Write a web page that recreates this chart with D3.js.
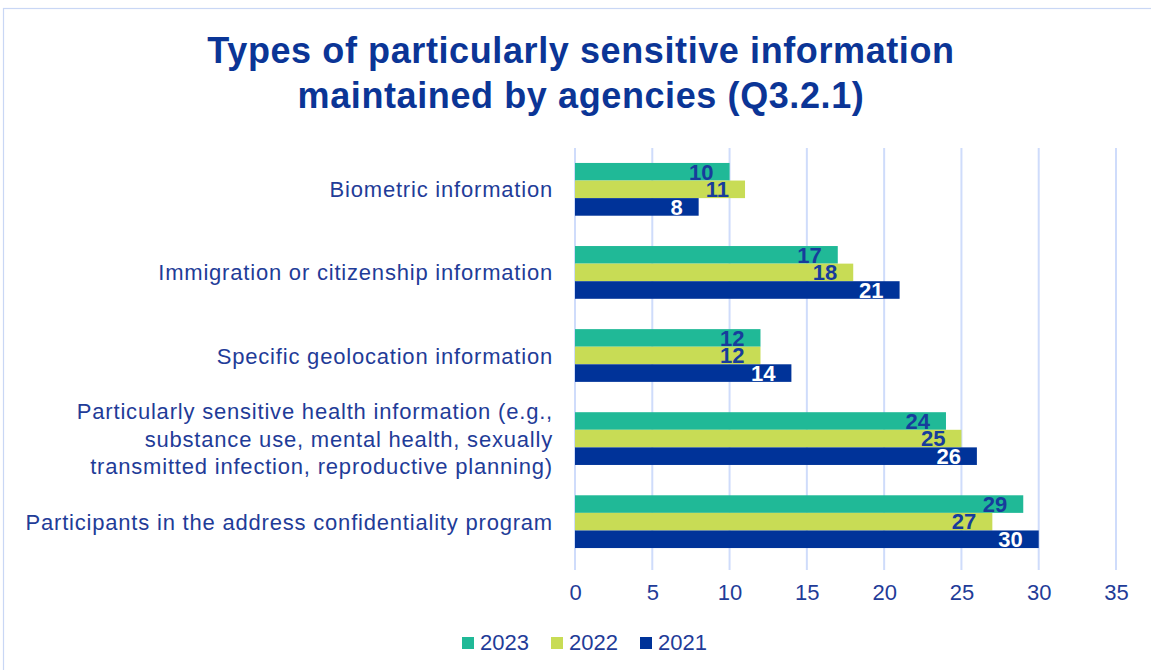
<!DOCTYPE html>
<html>
<head>
<meta charset="utf-8">
<script src="https://cdn.jsdelivr.net/npm/d3@7"></script>
<style>
  html, body { margin: 0; padding: 0; background: #fff; }
  svg { display: block; font-family: "Liberation Sans", Arial, sans-serif; }
</style>
</head>
<body>
<svg id="chart" width="1151" height="670"></svg>
<script>
// Chart data
const categories = [
  ["Biometric information"],
  ["Immigration or citizenship information"],
  ["Specific geolocation information"],
  ["Particularly sensitive health information (e.g.,", "substance use, mental health, sexually", "transmitted infection, reproductive planning)"],
  ["Participants in the address confidentiality program"]
];
const seriesNames = ["2023", "2022", "2021"];
const values2023 = [10, 17, 12, 24, 29];
const values2022 = [11, 18, 12, 25, 27];
const values2021 = [8, 21, 14, 26, 30];
const xTicks = [0, 5, 10, 15, 20, 25, 30, 35];

const seriesValues = [values2023, values2022, values2021];
const colors = ["#20b997", "#c8dc55", "#003399"];
const labelColors = ["#173c9c", "#173c9c", "#ffffff"];
const textColor = "#1f3c98";

const svg = d3.select("#chart");

// Outer frame
svg.append("rect")
  .attr("x", 3.5).attr("y", 8.5)
  .attr("width", 1160).attr("height", 680)
  .attr("fill", "none").attr("stroke", "#c9d7f5").attr("stroke-width", 1.2);

// Title
const title = svg.append("text")
  .attr("text-anchor", "middle")
  .attr("fill", "#0b3596")
  .attr("font-weight", "bold")
  .attr("font-size", 36)
  .attr("letter-spacing", 0.6);
title.append("tspan").attr("x", 581).attr("y", 63).text("Types of particularly sensitive information");
title.append("tspan").attr("x", 581).attr("y", 108).text("maintained by agencies (Q3.2.1)");

const plot = { left: 575, right: 1116, top: 148, bottom: 563 };

const x = d3.scaleLinear().domain([0, 35]).range([plot.left, plot.right]);
const y = d3.scaleBand()
  .domain(d3.range(categories.length))
  .range([plot.top, plot.bottom])
  .paddingInner(0.365).paddingOuter(0.18);
const ySub = d3.scaleBand().domain(d3.range(seriesNames.length)).range([0, y.bandwidth()]);

// Vertical gridlines
svg.append("g")
  .selectAll("line")
  .data(xTicks)
  .join("line")
  .attr("x1", d => x(d)).attr("x2", d => x(d))
  .attr("y1", plot.top).attr("y2", plot.bottom + 7)
  .attr("stroke", "#cfdcfb").attr("stroke-width", 2);

// Bars
const groups = svg.append("g")
  .selectAll("g")
  .data(categories)
  .join("g")
  .attr("transform", (d, i) => `translate(0,${y(i)})`);

groups.each(function (cat, i) {
  const g = d3.select(this);
  seriesValues.forEach((vals, s) => {
    g.append("rect")
      .attr("x", x(0))
      .attr("y", ySub(s))
      .attr("width", x(vals[i]) - x(0))
      .attr("height", ySub.bandwidth())
      .attr("fill", colors[s]);
  });
  seriesValues.forEach((vals, s) => {
    g.append("text")
      .attr("x", x(vals[i]) - 16)
      .attr("y", ySub(s) + ySub.bandwidth() - 1)
      .attr("text-anchor", "end")
      .attr("font-weight", "bold")
      .attr("font-size", 22)
      .attr("fill", labelColors[s])
      .text(vals[i]);
  });
});

// Category labels
const catLabels = svg.append("g")
  .selectAll("text")
  .data(categories)
  .join("text")
  .attr("text-anchor", "end")
  .attr("font-size", 22)
  .attr("letter-spacing", 0.8)
  .attr("fill", textColor);
catLabels.each(function (lines, i) {
  const t = d3.select(this);
  const cy = y(i) + y.bandwidth() / 2;
  const lh = 27.5;
  lines.forEach((ln, k) => {
    t.append("tspan")
      .attr("x", 553)
      .attr("y", cy + (k - (lines.length - 1) / 2) * lh + 8)
      .text(ln);
  });
});

// X axis tick labels
const xAxis = d3.axisBottom(x).tickValues(xTicks).tickSize(0).tickPadding(0);
const axisG = svg.append("g")
  .attr("transform", `translate(0,${plot.bottom + 21})`)
  .call(xAxis);
axisG.select(".domain").remove();
axisG.selectAll("text")
  .attr("font-size", 22)
  .attr("font-family", "\"Liberation Sans\", Arial, sans-serif")
  .attr("fill", textColor)
  .attr("dy", "0.71em");

// Legend
const legendX = [462, 551, 640];
const legend = svg.append("g")
  .selectAll("g")
  .data(seriesNames)
  .join("g")
  .attr("transform", (d, i) => `translate(${legendX[i]},637)`);
legend.append("rect")
  .attr("x", 0).attr("y", 0)
  .attr("width", 12).attr("height", 12)
  .attr("fill", (d, i) => colors[i]);
legend.append("text")
  .attr("x", 18).attr("y", 13)
  .attr("font-size", 22)
  .attr("fill", textColor)
  .text(d => d);
</script>
</body>
</html>
